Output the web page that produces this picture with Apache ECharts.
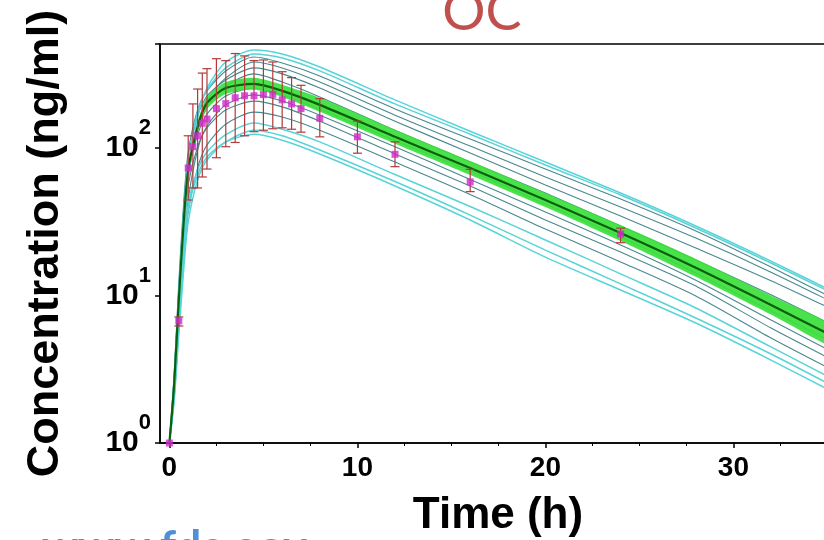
<!DOCTYPE html>
<html><head><meta charset="utf-8">
<script src="https://cdn.jsdelivr.net/npm/echarts@6/dist/echarts.min.js"></script>
<style>html,body{margin:0;padding:0;background:#fff}#c{width:824px;height:540px}</style>
</head><body><div id="c"></div>
<script>
// ---- data ----
const simTime = [0, 0.25, 0.5, 0.75, 1, 1.5, 2, 3, 4.5, 6, 8, 12, 16, 20, 24, 28, 32, 36];
// light cyan simulated profiles
const sim01 = [1, 2.22, 7.38, 23.8, 60.7, 160, 255, 383, 462, 434, 354, 212, 130, 80.3, 49.5, 29.6, 17.1, 9.62];
const sim02 = [1, 2.67, 10.9, 35.1, 82.9, 175, 247, 349, 434, 408, 333, 199, 124, 76.7, 48.0, 28.7, 16.6, 9.32];
const sim11 = [1, 2.18, 6.82, 18.8, 41.1, 70.9, 93.9, 123, 148, 134, 110, 66.1, 40.1, 23.8, 14.0, 8.23, 4.48, 2.44];
const sim12 = [1, 1.90, 5.40, 14.4, 31.5, 60.7, 82.9, 110, 132, 121, 96.9, 59.3, 35.1, 20.3, 12.0, 7.04, 4.01, 2.18];
const sim13 = [1, 2.08, 6.31, 16.9, 38.3, 65.6, 87.0, 110, 124, 113, 91.1, 55.3, 32.5, 18.2, 10.9, 6.51, 3.65, 1.99];
// darker teal simulated profiles
const sim03 = [1, 2.89, 12.3, 41.1, 93.9, 181, 244, 333, 414, 377, 308, 184, 115, 72.0, 45.1, 27.4, 15.6, 8.62];
const sim04 = [1, 2.12, 7.04, 23.8, 60.7, 143, 212, 298, 383, 349, 280, 167, 103, 63.6, 39.8, 24.5, 14.4, 8.10];
const sim05 = [1, 2.76, 10.9, 36.8, 85.5, 165, 225, 289, 349, 318, 255, 152, 92.5, 56.1, 34.6, 21.0, 12.6, 7.26];
const sim06 = [1, 2.29, 8.62, 27.8, 65.6, 132, 187, 263, 318, 280, 222, 132, 80.3, 49.5, 29.6, 17.4, 10.1, 5.66];
const sim07 = [1, 2.55, 10.1, 31.5, 68.8, 123, 170, 225, 255, 229, 184, 112, 69.8, 41.7, 24.9, 14.2, 7.85, 4.34];
const sim08 = [1, 2.02, 6.31, 18.8, 44.4, 96.9, 141, 196, 229, 208, 167, 102, 61.2, 36.8, 22.0, 12.7, 6.82, 3.71];
const sim09 = [1, 2.36, 8.62, 25.7, 56.1, 102, 137, 181, 208, 190, 152, 91.1, 55.3, 32.5, 19.7, 11.6, 6.02, 3.28];
const sim10 = [1, 1.96, 5.84, 16.1, 36.8, 73.2, 105, 145, 175, 162, 132, 80.3, 48.4, 28.2, 16.9, 9.92, 5.15, 2.80];
// median prediction and its confidence band
const medianConc = [1, 2.47, 9.32, 30.1, 70.9, 139, 202, 255, 272, 244, 196, 119, 73.2, 44.4, 26.5, 15.4, 8.62, 4.76];
const bandTime = [1.5, 2, 3, 4.5, 6, 8, 12, 16, 20, 24, 28, 32, 36];
const bandHigh = [150, 222, 280, 299, 268, 219, 133, 81.6, 49.5, 30.0, 17.7, 10.0, 5.56];
const bandLow  = [129, 184, 232, 248, 222, 176, 107, 65.7, 39.8, 23.4, 13.4, 7.43, 4.07];
// observed means and error bars
const obsTime = [0, 0.5, 1, 1.25, 1.5, 1.75, 2, 2.5, 3, 3.5, 4, 4.5, 5, 5.5, 6, 6.5, 7, 8, 10, 12, 16, 24];
const obsConc = [1, 6.72, 73.2, 102, 121, 147, 157, 185, 200, 219, 226, 226, 230, 231, 212, 199, 185, 159, 119, 90.6, 58.9, 26.1];
const errTime = [0.5, 1, 1.25, 1.5, 1.75, 2, 2.5, 3, 3.5, 4, 4.5, 5, 5.5, 6, 6.5, 7, 8, 10, 12, 16, 24];
const errLow  = [6.21, 44.4, 53.6, 53.6, 63.6, 72.0, 85.9, 102, 109, 121, 129, 132, 135, 137, 134, 128, 119, 92.2, 74.7, 50.6, 22.8];
const errHigh = [7.15, 121, 199, 251, 322, 345, 403, 391, 437, 421, 391, 395, 383, 329, 300, 266, 216, 152, 110, 71.6, 28.6];
// ticks
const xTickValues = [0, 10, 20, 30, 40];
const xMinorTickValues = [2.5, 5, 7.5, 12.5, 15, 17.5, 22.5, 25, 27.5, 32.5, 35, 37.5];
const yTickExponents = [0, 1, 2];

const cyanCurves = [sim01, sim02, sim11, sim12, sim13];
const tealCurves = [sim03, sim04, sim05, sim06, sim07, sim08, sim09, sim10];

const zip = (xs, ys) => xs.map((x, i) => [x, ys[i]]);
const FONT = 'Liberation Sans, Arial, sans-serif';

const series = [];
tealCurves.forEach(c => series.push({
  type: 'line', data: zip(simTime, c), showSymbol: false, smooth: 0.25,
  silent: true, z: 2, lineStyle: { color: '#47888f', width: 1.1 }
}));
cyanCurves.forEach(c => series.push({
  type: 'line', data: zip(simTime, c), showSymbol: false, smooth: 0.25,
  silent: true, z: 2, lineStyle: { color: '#58d4d8', width: 1.5 }
}));
series.push({
  type: 'custom', z: 3, silent: true, data: [[0]],
  renderItem: (params, api) => {
    const pts = bandTime.map((t, i) => api.coord([t, bandHigh[i]]));
    for (let i = bandTime.length - 1; i >= 0; i--) pts.push(api.coord([bandTime[i], bandLow[i]]));
    return { type: 'polygon', shape: { points: pts, smooth: 0.25 },
      style: { fill: '#3be03b', opacity: 0.92 } };
  }
});
series.push({
  type: 'line', data: zip(simTime, medianConc), showSymbol: false, smooth: 0.25,
  silent: true, z: 4, lineStyle: { color: '#0b600b', width: 2.2 }
});
series.push({
  type: 'custom', z: 5, silent: true,
  data: errTime.map((t, i) => [t, errLow[i], errHigh[i]]),
  renderItem: (params, api) => {
    const t = api.value(0);
    const lo = api.coord([t, api.value(1)]);
    const hi = api.coord([t, api.value(2)]);
    const w = 4.5;
    const st = { stroke: '#b03a3a', lineWidth: 1.2 };
    return { type: 'group', children: [
      { type: 'line', shape: { x1: lo[0], y1: lo[1], x2: hi[0], y2: hi[1] }, style: st },
      { type: 'line', shape: { x1: hi[0] - w, y1: hi[1], x2: hi[0] + w, y2: hi[1] }, style: st },
      { type: 'line', shape: { x1: lo[0] - w, y1: lo[1], x2: lo[0] + w, y2: lo[1] }, style: st }
    ]};
  }
});
series.push({
  type: 'scatter', z: 6, silent: true, data: zip(obsTime, obsConc),
  symbol: 'rect', symbolSize: 7, itemStyle: { color: '#d12bc9' }
});

const chart = echarts.init(document.getElementById('c'), null, { renderer: 'canvas' });
chart.setOption({
  animation: false,
  backgroundColor: '#fff',
  grid: { left: 160, top: 44, width: 761.4, height: 399, show: true, borderColor: '#000', borderWidth: 1.5,
    backgroundColor: 'transparent', containLabel: false, outerBoundsMode: 'none' },
  xAxis: [{
    type: 'value', min: -0.5, max: 40, position: 'bottom',
    axisLine: { show: true, onZero: false, lineStyle: { color: '#000', width: 1.5 } },
    axisTick: { show: true, customValues: xTickValues, length: 5, inside: false, lineStyle: { color: '#000', width: 1.5 } },
    axisLabel: { customValues: xTickValues, color: '#000', fontSize: 28, fontWeight: 'bold', fontFamily: FONT, margin: 11 },
    splitLine: { show: false }
  }, {
    type: 'value', min: -0.5, max: 40, position: 'bottom', offset: 0,
    axisLine: { show: false, onZero: false },
    axisTick: { show: true, customValues: xMinorTickValues, length: 3, inside: false, lineStyle: { color: '#000', width: 1 } },
    axisLabel: { show: false },
    splitLine: { show: false }
  }],
  yAxis: {
    type: 'log', logBase: 10, min: 1, max: 507,
    axisLine: { show: true, onZero: false, lineStyle: { color: '#000', width: 1.5 } },
    axisTick: { show: true, length: 5, inside: false, lineStyle: { color: '#000', width: 1.5 } },
    axisLabel: {
      margin: 9, color: '#000', fontFamily: FONT,
      formatter: v => {
        const e = Math.log10(v);
        const idx = yTickExponents.findIndex(k => Math.abs(k - e) < 1e-6);
        return idx < 0 ? '' : '{b|10}{s|' + yTickExponents[idx] + '}';
      },
      rich: {
        b: { fontSize: 30, fontWeight: 'bold', fontFamily: FONT, color: '#000', lineHeight: 62, verticalAlign: 'middle' },
        s: { fontSize: 22, fontWeight: 'bold', fontFamily: FONT, color: '#000', lineHeight: 22, verticalAlign: 'top' }
      }
    },
    splitLine: { show: false },
    name: 'Concentration (ng/ml)', nameLocation: 'middle', nameRotate: 90, nameGap: 92,
    nameTextStyle: { fontSize: 45, fontWeight: 'bold', fontFamily: FONT, color: '#000' }
  },
  graphic: [
    { type: 'text', x: 482, y: 13, silent: true,
      style: { text: 'OC', fill: '#c0504d', font: '54px Lato, "Open Sans", sans-serif', align: 'center', verticalAlign: 'middle' } },
    { type: 'text', x: 498, y: 516, silent: true,
      style: { text: 'Time (h)', fill: '#000', font: 'bold 44px "Liberation Sans", Arial, sans-serif', align: 'center', verticalAlign: 'middle' } },
    { type: 'text', x: 42, y: 548, silent: true,
      style: { text: 'www.fda.gov', fill: '#5290d6', font: 'bold 45px Lato, "Open Sans", sans-serif', align: 'left', verticalAlign: 'middle' } }
  ],
  series
});
</script></body></html>
